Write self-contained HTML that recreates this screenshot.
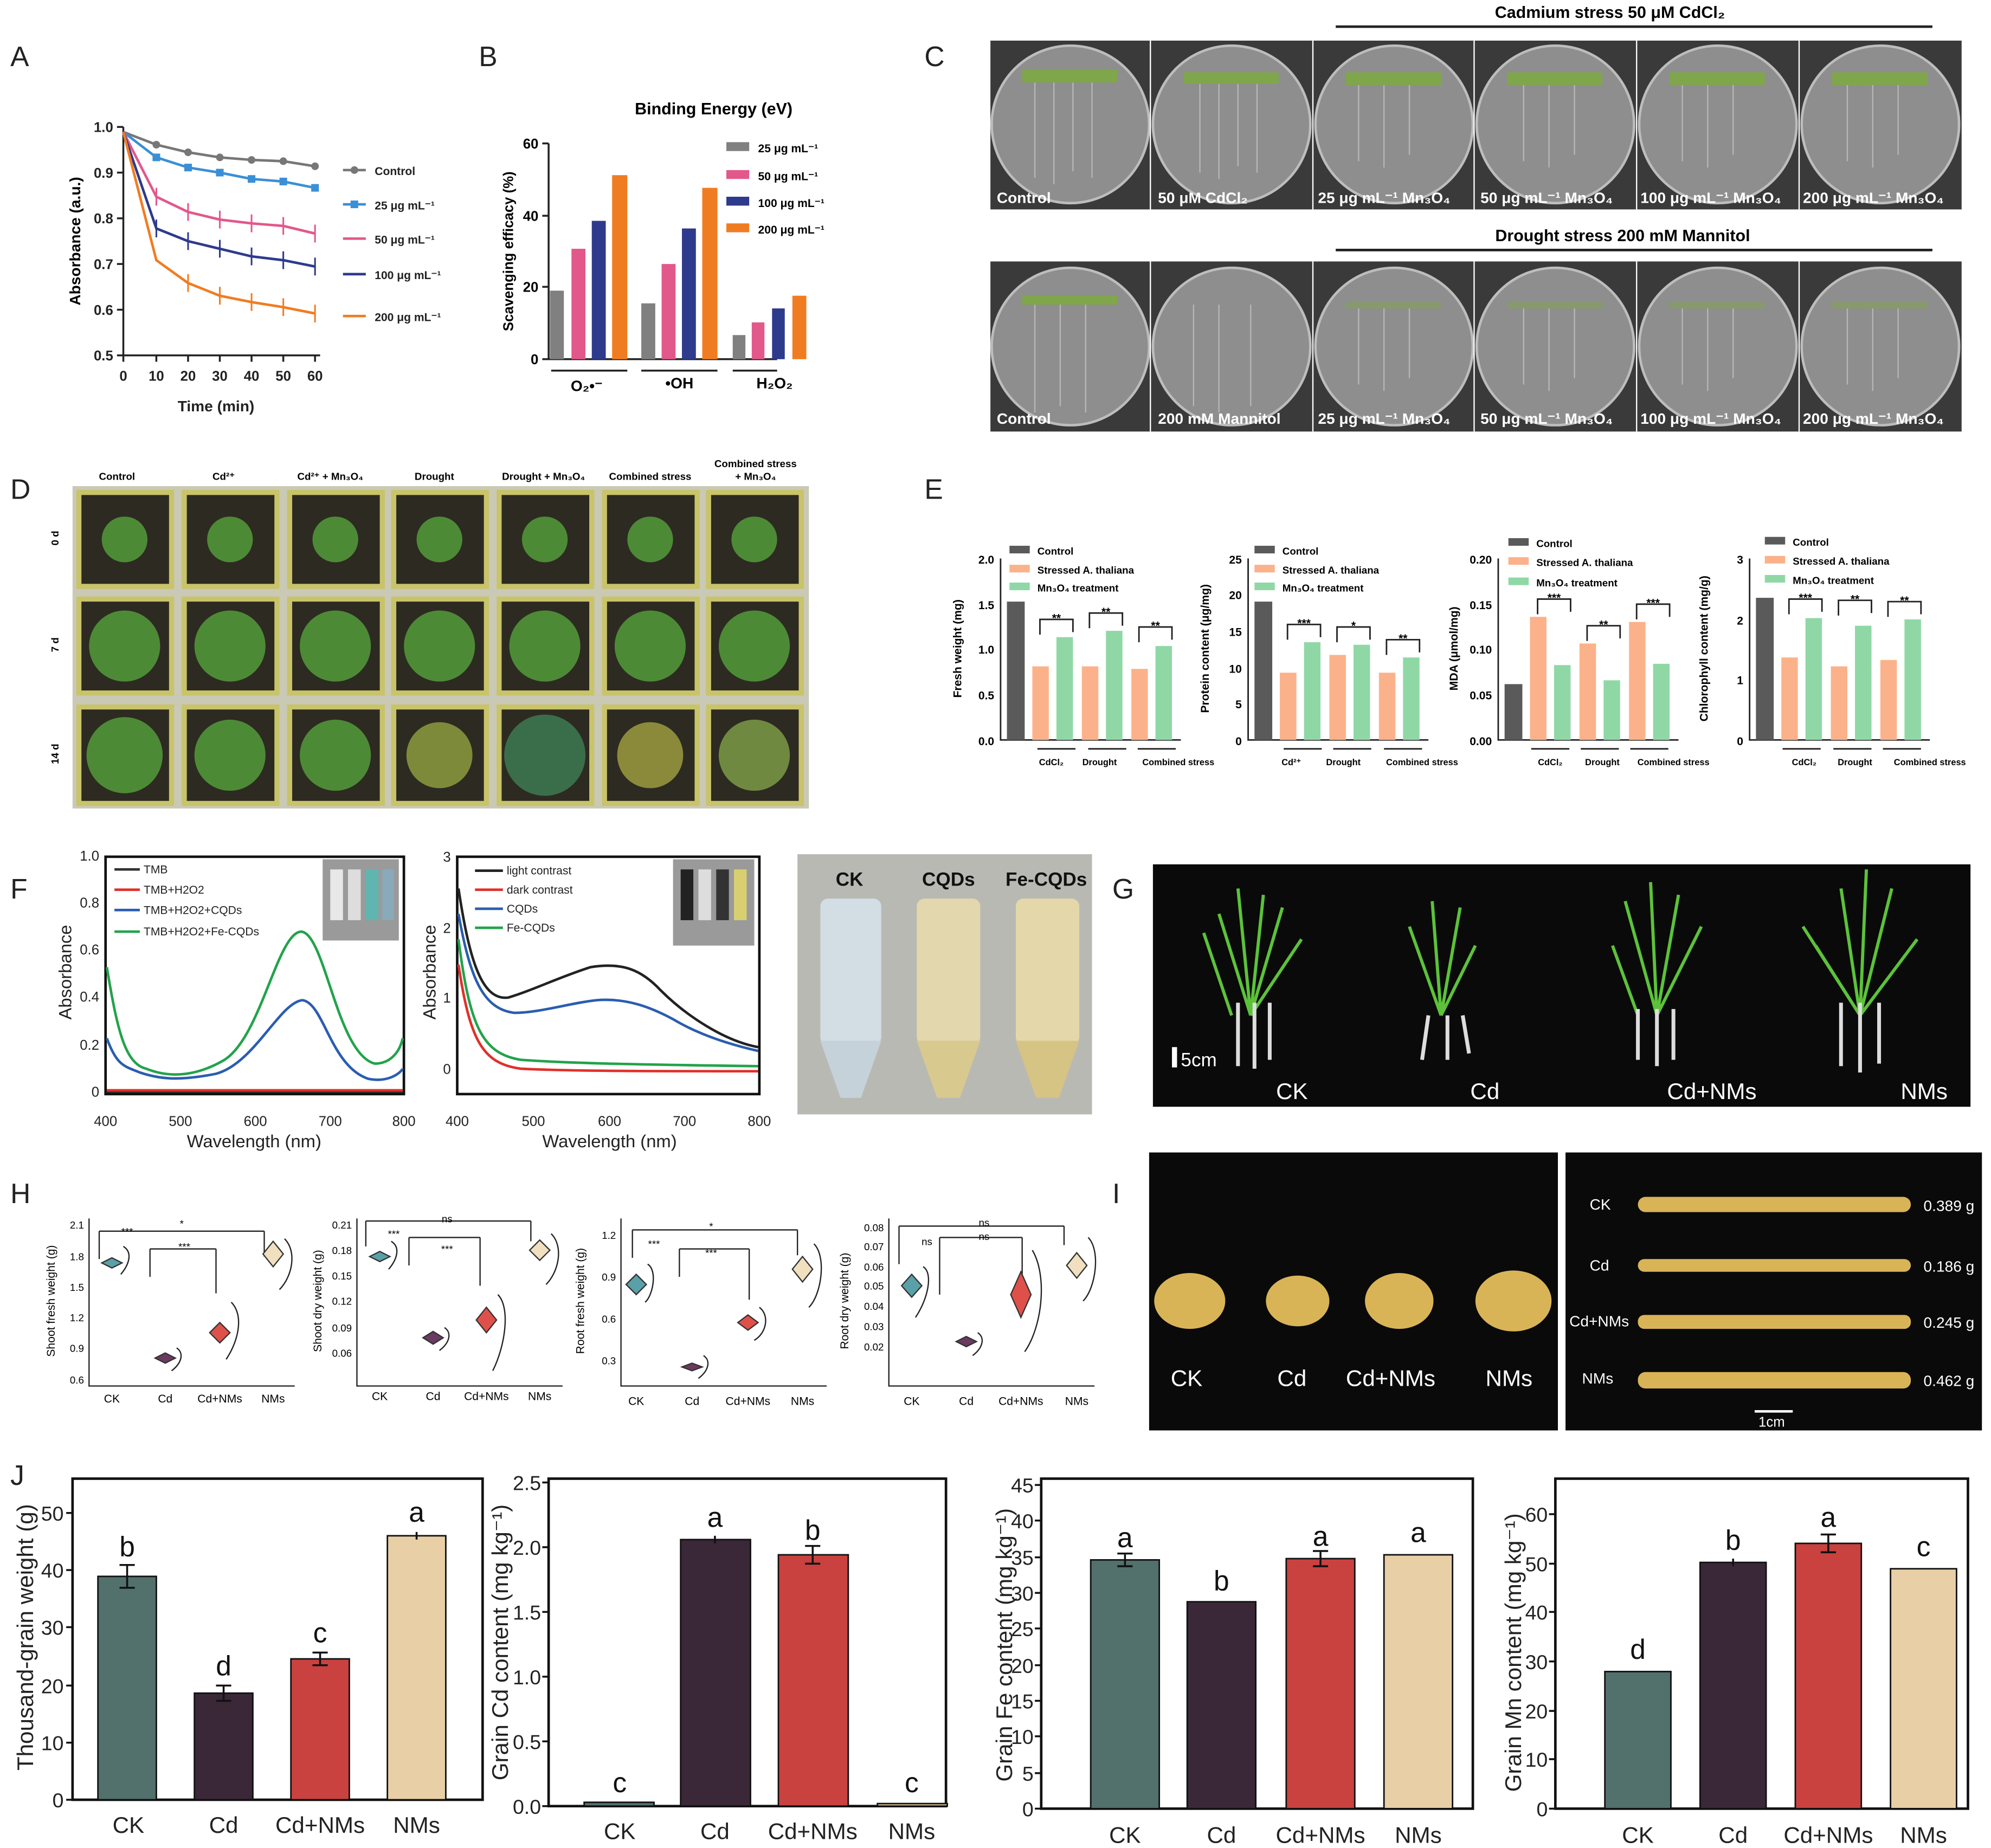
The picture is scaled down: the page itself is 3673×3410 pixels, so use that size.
<!DOCTYPE html>
<html><head><meta charset="utf-8"><style>
html,body{margin:0;padding:0;background:#fff}
svg{display:block}
text{font-family:"Liberation Sans",sans-serif}
</style></head><body>
<svg width="3673" height="3410" viewBox="0 0 1568 1456" xmlns="http://www.w3.org/2000/svg">
<rect width="1568" height="1456" fill="#fff"/>
<g font-size="22" fill="#222" font-family="Liberation Serif,serif">
<text x="8" y="52">A</text><text x="377" y="52">B</text><text x="728" y="52">C</text>
<text x="8" y="393">D</text><text x="728" y="393">E</text>
<text x="8" y="708">F</text><text x="876" y="708">G</text>
<text x="8" y="948">H</text><text x="876" y="948">I</text>
<text x="8" y="1170">J</text></g>

<!-- ===== A ===== -->
<g stroke="#222" stroke-width="1.5" fill="none">
<path d="M97 100V280H252"/>
<path d="M92 100h5M92 136h5M92 172h5M92 208h5M92 244h5M92 280h5"/>
<path d="M97 280v5M123 280v5M148 280v5M173 280v5M198 280v5M223 280v5M248 280v5"/>
</g>
<g font-size="11" font-weight="bold" text-anchor="end" fill="#222">
<text x="89" y="104">1.0</text><text x="89" y="140">0.9</text><text x="89" y="176">0.8</text><text x="89" y="212">0.7</text><text x="89" y="248">0.6</text><text x="89" y="284">0.5</text></g>
<g font-size="11" font-weight="bold" text-anchor="middle" fill="#222">
<text x="97" y="300">0</text><text x="123" y="300">10</text><text x="148" y="300">20</text><text x="173" y="300">30</text><text x="198" y="300">40</text><text x="223" y="300">50</text><text x="248" y="300">60</text>
<text x="170" y="324" font-size="12">Time (min)</text></g>
<text transform="translate(63 190) rotate(-90)" font-size="12" font-weight="bold" text-anchor="middle">Absorbance (a.u.)</text>
<g fill="none" stroke-width="2">
<polyline stroke="#777" points="97,104 123,114 148,120 173,124 198,126 223,127 248,131"/>
<polyline stroke="#3a8fd6" points="97,104 123,124 148,132 173,136 198,141 223,143 248,148"/>
<polyline stroke="#e2588a" points="97,104 123,155 148,167 173,173 198,176 223,178 248,184"/>
<polyline stroke="#2e3a8c" points="97,104 123,180 148,190 173,196 198,202 223,205 248,210"/>
<polyline stroke="#f07c22" points="97,104 123,205 148,223 173,233 198,238 223,242 248,247"/>
</g>
<g stroke-width="1.3" fill="none">
<path stroke="#e2588a" d="M123 148v14M148 160v14M173 166v14M198 169v14M223 171v14M248 177v14"/>
<path stroke="#2e3a8c" d="M123 173v14M148 183v14M173 189v14M198 195v14M223 198v14M248 203v14"/>
<path stroke="#f07c22" d="M148 216v14M173 226v14M198 231v14M223 235v14M248 240v14"/>
</g>
<g fill="#777"><circle cx="123" cy="114" r="3"/><circle cx="148" cy="120" r="3"/><circle cx="173" cy="124" r="3"/><circle cx="198" cy="126" r="3"/><circle cx="223" cy="127" r="3"/><circle cx="248" cy="131" r="3"/></g>
<g fill="#3a8fd6"><rect x="120" y="121" width="6" height="6"/><rect x="145" y="129" width="6" height="6"/><rect x="170" y="133" width="6" height="6"/><rect x="195" y="138" width="6" height="6"/><rect x="220" y="140" width="6" height="6"/><rect x="245" y="145" width="6" height="6"/></g>
<g font-size="9" font-weight="bold" fill="#222">
<line x1="270" y1="134" x2="288" y2="134" stroke="#777" stroke-width="2"/><circle cx="279" cy="134" r="3" fill="#777"/><text x="295" y="138">Control</text>
<line x1="270" y1="161" x2="288" y2="161" stroke="#3a8fd6" stroke-width="2"/><rect x="276" y="158" width="6" height="6" fill="#3a8fd6"/><text x="295" y="165">25 μg mL⁻¹</text>
<line x1="270" y1="188" x2="288" y2="188" stroke="#e2588a" stroke-width="2"/><text x="295" y="192">50 μg mL⁻¹</text>
<line x1="270" y1="216" x2="288" y2="216" stroke="#2e3a8c" stroke-width="2"/><text x="295" y="220">100 μg mL⁻¹</text>
<line x1="270" y1="249" x2="288" y2="249" stroke="#f07c22" stroke-width="2"/><text x="295" y="253">200 μg mL⁻¹</text></g>

<!-- ===== B ===== -->
<text x="562" y="90" font-size="13" font-weight="bold" text-anchor="middle">Binding Energy (eV)</text>
<g stroke="#222" stroke-width="1.5" fill="none"><path d="M432 113V283H612"/><path d="M427 113h5M427 170h5M427 226h5M427 283h5"/>
<path d="M434 292h60M505 292h60M577 292h35"/></g>
<g font-size="11" font-weight="bold" text-anchor="end"><text x="424" y="117">60</text><text x="424" y="174">40</text><text x="424" y="230">20</text><text x="424" y="287">0</text></g>
<text transform="translate(404 198) rotate(-90)" font-size="11" font-weight="bold" text-anchor="middle">Scavenging efficacy (%)</text>
<g font-size="12" font-weight="bold" text-anchor="middle"><text x="462" y="308">O₂•⁻</text><text x="535" y="306">•OH</text><text x="610" y="306">H₂O₂</text></g>
<g>
<rect x="433" y="229" width="11" height="54" fill="#808080"/><rect x="450" y="196" width="11" height="87" fill="#e2588a"/><rect x="466" y="174" width="11" height="109" fill="#2e3a8c"/><rect x="482" y="138" width="12" height="145" fill="#f07c22"/>
<rect x="505" y="239" width="11" height="44" fill="#808080"/><rect x="521" y="208" width="11" height="75" fill="#e2588a"/><rect x="537" y="180" width="11" height="103" fill="#2e3a8c"/><rect x="553" y="148" width="12" height="135" fill="#f07c22"/>
<rect x="577" y="264" width="10" height="19" fill="#808080"/><rect x="592" y="254" width="10" height="29" fill="#e2588a"/><rect x="608" y="243" width="10" height="40" fill="#2e3a8c"/><rect x="624" y="233" width="11" height="50" fill="#f07c22"/></g>
<g font-size="9" font-weight="bold">
<rect x="572" y="112" width="18" height="7" fill="#808080"/><text x="597" y="120">25 μg mL⁻¹</text>
<rect x="572" y="134" width="18" height="7" fill="#e2588a"/><text x="597" y="142">50 μg mL⁻¹</text>
<rect x="572" y="155" width="18" height="7" fill="#2e3a8c"/><text x="597" y="163">100 μg mL⁻¹</text>
<rect x="572" y="176" width="18" height="7" fill="#f07c22"/><text x="597" y="184">200 μg mL⁻¹</text></g>

<!-- ===== C ===== -->
<text x="1268" y="14" font-size="13" font-weight="bold" text-anchor="middle">Cadmium stress 50 μM CdCl₂</text>
<line x1="1052" y1="21" x2="1522" y2="21" stroke="#222" stroke-width="2"/>
<text x="1278" y="190" font-size="13" font-weight="bold" text-anchor="middle">Drought stress 200 mM Mannitol</text>
<line x1="1052" y1="197" x2="1522" y2="197" stroke="#222" stroke-width="2"/>
<g>
<rect x="780" y="32" width="765" height="133" fill="#3a3a3a"/>
<rect x="780" y="206" width="765" height="134" fill="#3a3a3a"/>
<g fill="#8e8e8e" stroke="#bdbdbd" stroke-width="2">
<circle cx="843" cy="98" r="62"/><circle cx="970" cy="98" r="62"/><circle cx="1098" cy="98" r="62"/><circle cx="1225" cy="98" r="62"/><circle cx="1353" cy="98" r="62"/><circle cx="1481" cy="98" r="62"/>
<circle cx="843" cy="273" r="62"/><circle cx="970" cy="273" r="62"/><circle cx="1098" cy="273" r="62"/><circle cx="1225" cy="273" r="62"/><circle cx="1353" cy="273" r="62"/><circle cx="1481" cy="273" r="62"/></g>
<g stroke="#fff" stroke-width="1"><path d="M906 32v133M1034 32v133M1161 32v133M1289 32v133M1417 32v133M906 206v134M1034 206v134M1161 206v134M1289 206v134M1417 206v134"/></g>
<g fill="#7fa64a"><rect x="805" y="55" width="75" height="10"/><rect x="932" y="57" width="75" height="9"/><rect x="1060" y="57" width="75" height="10"/><rect x="1187" y="57" width="75" height="10"/><rect x="1315" y="57" width="75" height="10"/><rect x="1443" y="57" width="75" height="10"/>
<rect x="805" y="233" width="75" height="7"/><rect x="1060" y="238" width="75" height="5" opacity=".5"/><rect x="1187" y="238" width="75" height="5" opacity=".5"/><rect x="1315" y="238" width="75" height="5" opacity=".5"/><rect x="1443" y="238" width="75" height="5" opacity=".5"/></g>
<g stroke="#c8c8c8" stroke-width="1" opacity=".7"><path d="M815 65v75M830 65v80M845 65v70M860 65v75M945 66v70M960 66v75M975 66v65M990 66v70M1070 67v60M1090 67v65M1110 67v55M1200 67v60M1220 67v65M1240 67v55M1325 67v60M1345 67v65M1365 67v55M1455 67v60M1475 67v65M1495 67v55
M815 240v85M835 240v80M855 240v85M940 240v80M960 240v85M985 240v80M1070 243v60M1090 243v65M1110 243v55M1200 243v60M1220 243v65M1240 243v55M1325 243v60M1345 243v65M1365 243v55M1455 243v60M1475 243v65M1495 243v55"/></g>
<g fill="#fff" font-size="12" font-weight="bold">
<text x="785" y="160">Control</text><text x="912" y="160">50 μM CdCl₂</text><text x="1038" y="160">25 μg mL⁻¹ Mn₃O₄</text><text x="1166" y="160">50 μg mL⁻¹ Mn₃O₄</text><text x="1292" y="160">100 μg mL⁻¹ Mn₃O₄</text><text x="1420" y="160">200 μg mL⁻¹ Mn₃O₄</text>
<text x="785" y="334">Control</text><text x="912" y="334">200 mM Mannitol</text><text x="1038" y="334">25 μg mL⁻¹ Mn₃O₄</text><text x="1166" y="334">50 μg mL⁻¹ Mn₃O₄</text><text x="1292" y="334">100 μg mL⁻¹ Mn₃O₄</text><text x="1420" y="334">200 μg mL⁻¹ Mn₃O₄</text></g>
</g>

<!-- ===== D ===== -->
<g font-size="8" font-weight="bold" text-anchor="middle">
<text x="92" y="378">Control</text><text x="176" y="378">Cd²⁺</text><text x="260" y="378">Cd²⁺ + Mn₃O₄</text><text x="342" y="378">Drought</text><text x="428" y="378">Drought + Mn₃O₄</text><text x="512" y="378">Combined stress</text><text x="595" y="368">Combined stress</text><text x="595" y="378">+ Mn₃O₄</text></g>
<g font-size="8" font-weight="bold"><text transform="translate(46 424) rotate(-90)" text-anchor="middle">0 d</text><text transform="translate(46 508) rotate(-90)" text-anchor="middle">7 d</text><text transform="translate(46 594) rotate(-90)" text-anchor="middle">14 d</text></g>
<rect x="57" y="383" width="580" height="254" fill="#c9c9b5"/>
<g fill="#2d2a22" stroke="#c9c36a" stroke-width="4">
<rect x="62" y="388" width="73" height="74"/><rect x="145" y="388" width="73" height="74"/><rect x="228" y="388" width="73" height="74"/><rect x="310" y="388" width="73" height="74"/><rect x="393" y="388" width="73" height="74"/><rect x="476" y="388" width="73" height="74"/><rect x="558" y="388" width="73" height="74"/>
<rect x="62" y="472" width="73" height="74"/><rect x="145" y="472" width="73" height="74"/><rect x="228" y="472" width="73" height="74"/><rect x="310" y="472" width="73" height="74"/><rect x="393" y="472" width="73" height="74"/><rect x="476" y="472" width="73" height="74"/><rect x="558" y="472" width="73" height="74"/>
<rect x="62" y="557" width="73" height="76"/><rect x="145" y="557" width="73" height="76"/><rect x="228" y="557" width="73" height="76"/><rect x="310" y="557" width="73" height="76"/><rect x="393" y="557" width="73" height="76"/><rect x="476" y="557" width="73" height="76"/><rect x="558" y="557" width="73" height="76"/></g>
<g fill="#4d8a36">
<circle cx="98" cy="425" r="18"/><circle cx="181" cy="425" r="18"/><circle cx="264" cy="425" r="18"/><circle cx="346" cy="425" r="18"/><circle cx="429" cy="425" r="18"/><circle cx="512" cy="425" r="18"/><circle cx="594" cy="425" r="18"/>
<circle cx="98" cy="509" r="28"/><circle cx="181" cy="509" r="28"/><circle cx="264" cy="509" r="28"/><circle cx="346" cy="509" r="28"/><circle cx="429" cy="509" r="28"/><circle cx="512" cy="509" r="28"/><circle cx="594" cy="509" r="28"/>
<circle cx="98" cy="595" r="30"/><circle cx="181" cy="595" r="28"/><circle cx="264" cy="595" r="28"/><circle cx="346" cy="595" r="26" fill="#7d8a3a"/><circle cx="429" cy="595" r="32" fill="#3a6e4a"/><circle cx="512" cy="595" r="26" fill="#8a8a3a"/><circle cx="594" cy="595" r="28" fill="#6f8a40"/></g>

<!-- ===== E ===== -->
<g stroke="#222" stroke-width="1.2" fill="none">
<path d="M788 440V583H930"/><path d="M983 440V583H1125"/><path d="M1180 440V583H1322"/><path d="M1378 440V583H1520"/>
<path d="M817 590h30M857 590h30M896 590h30M1011 590h30M1050 590h30M1090 590h30M1206 590h30M1245 590h30M1284 590h30M1404 590h30M1444 590h30M1483 590h30"/>
<path d="M819 500v-12h26v10M858 495v-12h26v10M897 506v-12h26v10M1014 504v-12h26v10M1053 506v-12h26v10M1092 516v-12h26v10M1211 484v-12h26v10M1250 505v-12h26v10M1289 488v-12h26v10M1409 484v-12h26v10M1448 485v-12h26v10M1487 486v-12h26v10"/></g>
<g font-size="9" font-weight="bold" text-anchor="middle"><text x="832" y="490">**</text><text x="871" y="485">**</text><text x="910" y="496">**</text><text x="1027" y="494">***</text><text x="1066" y="496">*</text><text x="1105" y="506">**</text><text x="1224" y="474">***</text><text x="1263" y="495">**</text><text x="1302" y="478">***</text><text x="1422" y="474">***</text><text x="1461" y="475">**</text><text x="1500" y="476">**</text></g>
<g font-size="9" font-weight="bold" text-anchor="end">
<text x="783" y="444">2.0</text><text x="783" y="480">1.5</text><text x="783" y="515">1.0</text><text x="783" y="551">0.5</text><text x="783" y="587">0.0</text>
<text x="978" y="444">25</text><text x="978" y="472">20</text><text x="978" y="501">15</text><text x="978" y="530">10</text><text x="978" y="558">5</text><text x="978" y="587">0</text>
<text x="1175" y="444">0.20</text><text x="1175" y="480">0.15</text><text x="1175" y="515">0.10</text><text x="1175" y="551">0.05</text><text x="1175" y="587">0.00</text>
<text x="1373" y="444">3</text><text x="1373" y="492">2</text><text x="1373" y="539">1</text><text x="1373" y="587">0</text></g>
<g font-size="9" font-weight="bold" text-anchor="middle">
<text transform="translate(757 511) rotate(-90)">Fresh weight (mg)</text><text transform="translate(952 511) rotate(-90)">Protein content (μg/mg)</text><text transform="translate(1148 511) rotate(-90)">MDA (μmol/mg)</text><text transform="translate(1345 511) rotate(-90)">Chlorophyll content (mg/g)</text></g>
<g font-size="7" font-weight="bold" text-anchor="middle">
<text x="828" y="603">CdCl₂</text><text x="866" y="603">Drought</text><text x="928" y="603">Combined stress</text>
<text x="1017" y="603">Cd²⁺</text><text x="1058" y="603">Drought</text><text x="1120" y="603">Combined stress</text>
<text x="1221" y="603">CdCl₂</text><text x="1262" y="603">Drought</text><text x="1318" y="603">Combined stress</text>
<text x="1421" y="603">CdCl₂</text><text x="1461" y="603">Drought</text><text x="1520" y="603">Combined stress</text></g>
<g>
<rect x="793" y="474" width="14" height="109" fill="#5a5a5a"/><rect x="813" y="525" width="13" height="58" fill="#fbb28a"/><rect x="832" y="502" width="13" height="81" fill="#8fd8a6"/><rect x="852" y="525" width="13" height="58" fill="#fbb28a"/><rect x="871" y="497" width="13" height="86" fill="#8fd8a6"/><rect x="891" y="527" width="13" height="56" fill="#fbb28a"/><rect x="910" y="509" width="13" height="74" fill="#8fd8a6"/>
<rect x="988" y="474" width="14" height="109" fill="#5a5a5a"/><rect x="1008" y="530" width="13" height="53" fill="#fbb28a"/><rect x="1027" y="506" width="13" height="77" fill="#8fd8a6"/><rect x="1047" y="516" width="13" height="67" fill="#fbb28a"/><rect x="1066" y="508" width="13" height="75" fill="#8fd8a6"/><rect x="1086" y="530" width="13" height="53" fill="#fbb28a"/><rect x="1105" y="518" width="13" height="65" fill="#8fd8a6"/>
<rect x="1185" y="539" width="14" height="44" fill="#5a5a5a"/><rect x="1205" y="486" width="13" height="97" fill="#fbb28a"/><rect x="1224" y="524" width="13" height="59" fill="#8fd8a6"/><rect x="1244" y="507" width="13" height="76" fill="#fbb28a"/><rect x="1263" y="536" width="13" height="47" fill="#8fd8a6"/><rect x="1283" y="490" width="13" height="93" fill="#fbb28a"/><rect x="1302" y="523" width="13" height="60" fill="#8fd8a6"/>
<rect x="1383" y="471" width="14" height="112" fill="#5a5a5a"/><rect x="1403" y="518" width="13" height="65" fill="#fbb28a"/><rect x="1422" y="487" width="13" height="96" fill="#8fd8a6"/><rect x="1442" y="525" width="13" height="58" fill="#fbb28a"/><rect x="1461" y="493" width="13" height="90" fill="#8fd8a6"/><rect x="1481" y="520" width="13" height="63" fill="#fbb28a"/><rect x="1500" y="488" width="13" height="95" fill="#8fd8a6"/></g>
<g font-size="8" font-weight="bold">
<rect x="795" y="430" width="16" height="6" fill="#5a5a5a"/><text x="817" y="437">Control</text><rect x="795" y="445" width="16" height="6" fill="#fbb28a"/><text x="817" y="452">Stressed A. thaliana</text><rect x="795" y="459" width="16" height="6" fill="#8fd8a6"/><text x="817" y="466">Mn₃O₄ treatment</text>
<rect x="988" y="430" width="16" height="6" fill="#5a5a5a"/><text x="1010" y="437">Control</text><rect x="988" y="445" width="16" height="6" fill="#fbb28a"/><text x="1010" y="452">Stressed A. thaliana</text><rect x="988" y="459" width="16" height="6" fill="#8fd8a6"/><text x="1010" y="466">Mn₃O₄ treatment</text>
<rect x="1188" y="424" width="16" height="6" fill="#5a5a5a"/><text x="1210" y="431">Control</text><rect x="1188" y="439" width="16" height="6" fill="#fbb28a"/><text x="1210" y="446">Stressed A. thaliana</text><rect x="1188" y="455" width="16" height="6" fill="#8fd8a6"/><text x="1210" y="462">Mn₃O₄ treatment</text>
<rect x="1390" y="423" width="16" height="6" fill="#5a5a5a"/><text x="1412" y="430">Control</text><rect x="1390" y="438" width="16" height="6" fill="#fbb28a"/><text x="1412" y="445">Stressed A. thaliana</text><rect x="1390" y="453" width="16" height="6" fill="#8fd8a6"/><text x="1412" y="460">Mn₃O₄ treatment</text></g>

<!-- ===== F ===== -->
<rect x="83" y="675" width="235" height="187" fill="none" stroke="#111" stroke-width="2"/>
<rect x="360" y="675" width="238" height="187" fill="none" stroke="#111" stroke-width="2"/>
<g font-size="11" text-anchor="end" fill="#222">
<text x="78" y="678">1.0</text><text x="78" y="715">0.8</text><text x="78" y="752">0.6</text><text x="78" y="789">0.4</text><text x="78" y="827">0.2</text><text x="78" y="864">0</text>
<text x="355" y="679">3</text><text x="355" y="735">2</text><text x="355" y="790">1</text><text x="355" y="846">0</text></g>
<g font-size="11" text-anchor="middle" fill="#222">
<text x="83" y="887">400</text><text x="142" y="887">500</text><text x="201" y="887">600</text><text x="260" y="887">700</text><text x="318" y="887">800</text>
<text x="360" y="887">400</text><text x="420" y="887">500</text><text x="480" y="887">600</text><text x="539" y="887">700</text><text x="598" y="887">800</text>
<text x="200" y="904" font-size="14">Wavelength (nm)</text><text x="480" y="904" font-size="14">Wavelength (nm)</text>
<text transform="translate(56 766) rotate(-90)" font-size="14">Absorbance</text><text transform="translate(343 766) rotate(-90)" font-size="14">Absorbance</text></g>
<g fill="none" stroke-width="2">
<path d="M84 860H317" stroke="#333"/><path d="M84 859H317" stroke="#e0302a"/>
<path d="M84 818C92 840 98 840 110 845C125 850 140 852 170 846C200 838 220 790 238 788C255 790 260 840 290 850C305 853 315 846 317 842" stroke="#2a5db0"/>
<path d="M84 762C92 810 98 838 115 842C130 848 150 850 175 836C205 820 218 735 237 734C256 735 265 830 295 838C308 838 315 828 317 818" stroke="#22a34a"/>
<path d="M361 700C370 760 380 788 400 786C420 780 440 770 465 762C490 758 505 764 520 780C540 800 570 820 597 825" stroke="#222"/>
<path d="M361 720C370 770 380 795 405 798C425 798 450 790 470 788C495 786 515 795 530 803C550 815 575 823 597 828" stroke="#2a5db0"/>
<path d="M361 740C370 810 380 830 410 835C450 838 520 839 597 840" stroke="#22a34a"/>
<path d="M361 760C370 820 380 838 410 842C450 844 520 844 597 844" stroke="#e0302a"/></g>
<g font-size="9" fill="#222">
<line x1="90" y1="685" x2="110" y2="685" stroke="#333" stroke-width="2"/><text x="113" y="688">TMB</text>
<line x1="90" y1="701" x2="110" y2="701" stroke="#e0302a" stroke-width="2"/><text x="113" y="704">TMB+H2O2</text>
<line x1="90" y1="717" x2="110" y2="717" stroke="#2a5db0" stroke-width="2"/><text x="113" y="720">TMB+H2O2+CQDs</text>
<line x1="90" y1="734" x2="110" y2="734" stroke="#22a34a" stroke-width="2"/><text x="113" y="737">TMB+H2O2+Fe-CQDs</text>
<line x1="374" y1="686" x2="396" y2="686" stroke="#222" stroke-width="2"/><text x="399" y="689">light contrast</text>
<line x1="374" y1="701" x2="396" y2="701" stroke="#e0302a" stroke-width="2"/><text x="399" y="704">dark contrast</text>
<line x1="374" y1="716" x2="396" y2="716" stroke="#2a5db0" stroke-width="2"/><text x="399" y="719">CQDs</text>
<line x1="374" y1="731" x2="396" y2="731" stroke="#22a34a" stroke-width="2"/><text x="399" y="734">Fe-CQDs</text></g>
<rect x="254" y="677" width="60" height="64" fill="#9a9a9a"/><rect x="260" y="685" width="10" height="40" fill="#e8e8e8"/><rect x="274" y="685" width="10" height="40" fill="#ddd"/><rect x="288" y="685" width="10" height="40" fill="#5fb5b0"/><rect x="301" y="685" width="9" height="40" fill="#8ab"/>
<rect x="530" y="677" width="64" height="68" fill="#9a9a9a"/><rect x="536" y="685" width="10" height="40" fill="#222"/><rect x="550" y="685" width="10" height="40" fill="#ddd"/><rect x="564" y="685" width="10" height="40" fill="#333"/><rect x="578" y="685" width="10" height="40" fill="#d8d070"/>
<rect x="628" y="673" width="232" height="205" fill="#b9b9b4"/>
<rect x="646" y="708" width="48" height="115" rx="6" fill="#d2dde4"/><path d="M646 820h48l-16 45h-16z" fill="#c6d2da"/>
<rect x="722" y="708" width="50" height="115" rx="6" fill="#e2d7ad"/><path d="M722 820h50l-16 45h-18z" fill="#d8c98e"/>
<rect x="800" y="708" width="50" height="115" rx="6" fill="#e4d8aa"/><path d="M800 820h50l-16 45h-18z" fill="#d6c484"/>
<g font-size="15" font-weight="bold" text-anchor="middle" fill="#111"><text x="669" y="698">CK</text><text x="747" y="698">CQDs</text><text x="824" y="698">Fe-CQDs</text></g>

<!-- ===== G ===== -->
<rect x="908" y="681" width="644" height="191" fill="#0a0a0a"/>
<g stroke="#5cc23a" stroke-width="2.5" fill="none">
<path d="M985 800L960 720M985 800L975 700M985 800L995 705M985 800L1010 715M985 800L1025 740M970 800L948 735"/>
<path d="M1135 800L1110 730M1135 800L1128 710M1135 800L1150 715M1135 800L1162 745"/>
<path d="M1305 800L1280 710M1305 800L1300 695M1305 800L1322 705M1305 800L1340 730M1290 800L1270 745"/>
<path d="M1465 800L1420 730M1465 800L1450 700M1465 800L1470 685M1465 800L1490 700M1465 800L1510 740M1465 800L1430 745"/></g>
<g stroke="#ddd" stroke-width="3" fill="none">
<path d="M975 790v50M988 790v52M1000 790v45M1125 800l-5 35M1140 800v35M1152 800l5 30M1290 795v40M1305 795v45M1318 795v40M1450 790v50M1465 790v55M1480 790v48"/></g>
<rect x="923" y="825" width="4" height="16" fill="#fff"/>
<g fill="#fff" font-size="18"><text x="930" y="840" font-size="15">5cm</text><text x="1005" y="866">CK</text><text x="1158" y="866">Cd</text><text x="1313" y="866">Cd+NMs</text><text x="1497" y="866">NMs</text></g>

<!-- ===== H ===== -->
<g stroke="#222" stroke-width="1" fill="none">
<path d="M70 960V1092H232"/><path d="M281 960V1092H443"/><path d="M489 960V1092H651"/><path d="M700 960V1092H862"/>
<path d="M78 970H208M78 970v22M208 970v20M118 984H170M118 984v22M170 984v35"/>
<path d="M288 962H418M288 962v20M418 962v16M322 975H378M322 975v22M378 975v38"/>
<path d="M498 969H628M498 969v22M628 969v20M535 984H590M535 984v22M590 984v40"/>
<path d="M708 966H838M708 966v30M838 966v15M740 975H805M740 975v45M805 975v30"/>
<path d="M97 982c8 5 4 15 -2 22M139 1062c6 4 4 12 -4 18M182 1026c10 10 6 30 -4 45M224 976c10 10 6 30 -4 40"/>
<path d="M308 978c8 5 4 15 -2 22M350 1046c6 4 4 12 -4 18M392 1020c10 10 6 40 -4 60M434 972c10 10 6 30 -4 40"/>
<path d="M510 996c8 5 4 25 -2 30M554 1068c6 4 4 12 -4 18M598 1030c8 6 6 20 -4 26M641 980c10 10 6 40 -4 50"/>
<path d="M727 998c8 5 4 25 -6 40M770 1050c6 4 4 12 -4 18M813 985c12 20 8 60 -6 80M857 975c10 10 6 40 -4 50"/>
</g>
<g font-size="8" text-anchor="middle"><text x="143" y="967">*</text><text x="100" y="973">***</text><text x="145" y="985">***</text><text x="352" y="963">ns</text><text x="310" y="975">***</text><text x="352" y="987">***</text><text x="560" y="969">*</text><text x="515" y="983">***</text><text x="560" y="990">***</text><text x="775" y="966">ns</text><text x="730" y="981">ns</text><text x="775" y="977">ns</text></g>
<g font-size="8" text-anchor="end">
<text x="66" y="968">2.1</text><text x="66" y="993">1.8</text><text x="66" y="1017">1.5</text><text x="66" y="1041">1.2</text><text x="66" y="1065">0.9</text><text x="66" y="1090">0.6</text>
<text x="277" y="968">0.21</text><text x="277" y="988">0.18</text><text x="277" y="1008">0.15</text><text x="277" y="1028">0.12</text><text x="277" y="1049">0.09</text><text x="277" y="1069">0.06</text>
<text x="485" y="976">1.2</text><text x="485" y="1009">0.9</text><text x="485" y="1042">0.6</text><text x="485" y="1075">0.3</text>
<text x="696" y="970">0.08</text><text x="696" y="985">0.07</text><text x="696" y="1001">0.06</text><text x="696" y="1016">0.05</text><text x="696" y="1032">0.04</text><text x="696" y="1048">0.03</text><text x="696" y="1064">0.02</text></g>
<g font-size="9" text-anchor="middle">
<text transform="translate(43 1025) rotate(-90)">Shoot fresh weight (g)</text><text transform="translate(253 1025) rotate(-90)">Shoot dry weight (g)</text><text transform="translate(460 1025) rotate(-90)">Root fresh weight (g)</text><text transform="translate(668 1025) rotate(-90)">Root dry weight (g)</text>
<text x="88" y="1105">CK</text><text x="130" y="1105">Cd</text><text x="173" y="1105">Cd+NMs</text><text x="215" y="1105">NMs</text>
<text x="299" y="1103">CK</text><text x="341" y="1103">Cd</text><text x="383" y="1103">Cd+NMs</text><text x="425" y="1103">NMs</text>
<text x="501" y="1107">CK</text><text x="545" y="1107">Cd</text><text x="589" y="1107">Cd+NMs</text><text x="632" y="1107">NMs</text>
<text x="718" y="1107">CK</text><text x="761" y="1107">Cd</text><text x="804" y="1107">Cd+NMs</text><text x="848" y="1107">NMs</text></g>
<g stroke="#333" stroke-width="1">
<path d="M80 995l8-4 8 4-8 4z" fill="#5aa0a8"/><path d="M122 1070l8-4 8 4-8 4z" fill="#6a3a60"/><path d="M165 1050l8-8 8 8-8 8z" fill="#e0504a"/><path d="M207 988l8-10 8 10-8 10z" fill="#f0e0c0"/>
<path d="M291 990l8-4 8 4-8 4z" fill="#5aa0a8"/><path d="M333 1054l8-5 8 5-8 5z" fill="#6a3a60"/><path d="M375 1040l8-10 8 10-8 10z" fill="#e0504a"/><path d="M417 985l8-8 8 8-8 8z" fill="#f0e0c0"/>
<path d="M493 1012l8-8 8 8-8 8z" fill="#5aa0a8"/><path d="M537 1077l8-3 8 3-8 3z" fill="#6a3a60"/><path d="M581 1042l8-6 8 6-8 6z" fill="#e0504a"/><path d="M624 1000l8-10 8 10-8 10z" fill="#f0e0c0"/>
<path d="M710 1013l8-9 8 9-8 9z" fill="#5aa0a8"/><path d="M753 1057l8-4 8 4-8 4z" fill="#6a3a60"/><path d="M796 1020l8-18 8 18-8 18z" fill="#e0504a"/><path d="M840 997l8-10 8 10-8 10z" fill="#f0e0c0"/></g>

<!-- ===== I ===== -->
<rect x="905" y="908" width="322" height="219" fill="#0a0a0a"/>
<rect x="1233" y="908" width="328" height="219" fill="#0a0a0a"/>
<g fill="#d9b457"><ellipse cx="937" cy="1025" rx="28" ry="22"/><ellipse cx="1022" cy="1025" rx="25" ry="20"/><ellipse cx="1102" cy="1025" rx="27" ry="22"/><ellipse cx="1192" cy="1025" rx="30" ry="24"/></g>
<g fill="#fff" font-size="18"><text x="922" y="1092">CK</text><text x="1006" y="1092">Cd</text><text x="1060" y="1092">Cd+NMs</text><text x="1170" y="1092">NMs</text></g>
<g fill="#d9b457"><rect x="1290" y="943" width="215" height="12" rx="6"/><rect x="1290" y="992" width="215" height="10" rx="5"/><rect x="1290" y="1036" width="215" height="11" rx="5"/><rect x="1290" y="1081" width="215" height="13" rx="6"/></g>
<g fill="#fff" font-size="12" font-family="Liberation Serif,serif"><text x="1252" y="953">CK</text><text x="1252" y="1001">Cd</text><text x="1236" y="1045">Cd+NMs</text><text x="1246" y="1090">NMs</text>
<text x="1515" y="954">0.389 g</text><text x="1515" y="1002">0.186 g</text><text x="1515" y="1046">0.245 g</text><text x="1515" y="1092">0.462 g</text><text x="1385" y="1124" font-size="11">1cm</text></g>
<line x1="1382" y1="1112" x2="1412" y2="1112" stroke="#fff" stroke-width="2"/>

<!-- ===== J ===== -->
<g>
<g stroke="#111" stroke-width="2" fill="none">
<rect x="57" y="1165" width="323" height="253"/><rect x="432" y="1165" width="313" height="258"/><rect x="820" y="1165" width="340" height="260"/><rect x="1225" y="1165" width="325" height="260"/></g>
<g stroke="#111" stroke-width="1.5">
<path d="M52 1418h5M52 1373h5M52 1328h5M52 1282h5M52 1237h5M52 1192h5"/>
<path d="M427 1423h5M427 1372h5M427 1321h5M427 1270h5M427 1219h5M427 1168h5"/>
<path d="M815 1425h5M815 1397h5M815 1368h5M815 1340h5M815 1312h5M815 1283h5M815 1255h5M815 1227h5M815 1198h5M815 1170h5"/>
<path d="M1220 1425h5M1220 1386h5M1220 1348h5M1220 1309h5M1220 1270h5M1220 1232h5M1220 1193h5"/></g>
<g font-size="16" text-anchor="end" fill="#222">
<text x="50" y="1424">0</text><text x="50" y="1379">10</text><text x="50" y="1334">20</text><text x="50" y="1288">30</text><text x="50" y="1243">40</text><text x="50" y="1198">50</text>
<text x="426" y="1429">0.0</text><text x="426" y="1378">0.5</text><text x="426" y="1327">1.0</text><text x="426" y="1276">1.5</text><text x="426" y="1225">2.0</text><text x="426" y="1174">2.5</text>
<text x="814" y="1431">0</text><text x="814" y="1403">5</text><text x="814" y="1374">10</text><text x="814" y="1346">15</text><text x="814" y="1318">20</text><text x="814" y="1289">25</text><text x="814" y="1261">30</text><text x="814" y="1233">35</text><text x="814" y="1204">40</text><text x="814" y="1176">45</text>
<text x="1219" y="1431">0</text><text x="1219" y="1392">10</text><text x="1219" y="1354">20</text><text x="1219" y="1315">30</text><text x="1219" y="1276">40</text><text x="1219" y="1238">50</text><text x="1219" y="1199">60</text></g>
<g font-size="18" text-anchor="middle" fill="#222">
<text x="101" y="1444">CK</text><text x="176" y="1444">Cd</text><text x="252" y="1444">Cd+NMs</text><text x="328" y="1444">NMs</text>
<text x="488" y="1449">CK</text><text x="563" y="1449">Cd</text><text x="640" y="1449">Cd+NMs</text><text x="718" y="1449">NMs</text>
<text x="886" y="1452">CK</text><text x="962" y="1452">Cd</text><text x="1040" y="1452">Cd+NMs</text><text x="1117" y="1452">NMs</text>
<text x="1290" y="1452">CK</text><text x="1365" y="1452">Cd</text><text x="1440" y="1452">Cd+NMs</text><text x="1515" y="1452">NMs</text>
<text transform="translate(26 1290) rotate(-90)">Thousand-grain weight (g)</text>
<text transform="translate(400 1294) rotate(-90)">Grain Cd content (mg kg⁻¹)</text>
<text transform="translate(797 1296) rotate(-90)">Grain Fe content (mg kg⁻¹)</text>
<text transform="translate(1198 1302) rotate(-90)">Grain Mn content (mg kg⁻¹)</text></g>
<g stroke="#111" stroke-width="1.2">
<rect x="77" y="1242" width="46" height="176" fill="#52706c"/><rect x="153" y="1334" width="46" height="84" fill="#3a2838"/><rect x="229" y="1307" width="46" height="111" fill="#c9423f"/><rect x="305" y="1210" width="46" height="208" fill="#e8cfa6"/>
<rect x="460" y="1420" width="55" height="3" fill="#52706c"/><rect x="536" y="1213" width="55" height="210" fill="#3a2838"/><rect x="613" y="1225" width="55" height="198" fill="#c9423f"/><rect x="691" y="1421" width="55" height="2" fill="#e8cfa6"/>
<rect x="859" y="1229" width="54" height="196" fill="#52706c"/><rect x="935" y="1262" width="54" height="163" fill="#3a2838"/><rect x="1013" y="1228" width="54" height="197" fill="#c9423f"/><rect x="1090" y="1225" width="54" height="200" fill="#e8cfa6"/>
<rect x="1264" y="1317" width="52" height="108" fill="#52706c"/><rect x="1339" y="1231" width="52" height="194" fill="#3a2838"/><rect x="1414" y="1216" width="52" height="209" fill="#c9423f"/><rect x="1489" y="1236" width="52" height="189" fill="#e8cfa6"/></g>
<g stroke="#111" stroke-width="1.5"><path d="M100 1233v18M94 1233h12M94 1251h12M176 1328v12M170 1328h12M170 1340h12M252 1302v10M246 1302h12M246 1312h12M328 1207v6"/>
<path d="M886 1224v10M880 1224h12M880 1234h12M1040 1222v12M1034 1222h12M1034 1234h12M640 1218v14M634 1218h12M634 1232h12M563 1210v6"/>
<path d="M1440 1209v14M1434 1209h12M1434 1223h12M1365 1228v6"/></g>
<g font-size="22" text-anchor="middle" fill="#111">
<text x="100" y="1226">b</text><text x="176" y="1320">d</text><text x="252" y="1294">c</text><text x="328" y="1199">a</text>
<text x="488" y="1412">c</text><text x="563" y="1203">a</text><text x="640" y="1213">b</text><text x="718" y="1412">c</text>
<text x="886" y="1219">a</text><text x="962" y="1253">b</text><text x="1040" y="1218">a</text><text x="1117" y="1215">a</text>
<text x="1290" y="1307">d</text><text x="1365" y="1221">b</text><text x="1440" y="1203">a</text><text x="1515" y="1226">c</text></g>
</g>
</svg>
</body></html>
